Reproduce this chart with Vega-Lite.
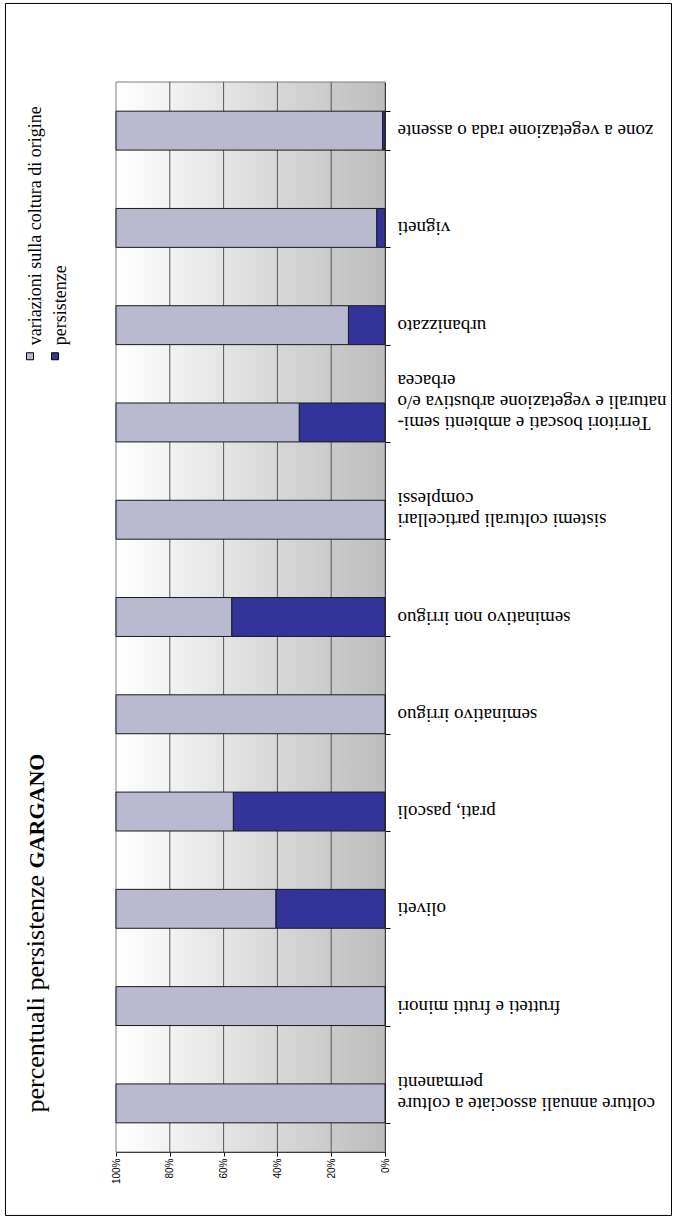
{
  "$schema": "https://vega.github.io/schema/vega-lite/v6.json",
  "width": 269,
  "height": 1070,
  "autosize": "none",
  "padding": {"left": 116, "top": 82, "right": 288, "bottom": 66},
  "background": "white",
  "config": {
    "view": {"stroke": null},
    "font": "Liberation Serif"
  },
  "datasets": {
    "dati_barre": [
      {"categoria": "zone a vegetazione rada o assente", "serie": "persistenze", "valore": 0.9},
      {"categoria": "zone a vegetazione rada o assente", "serie": "variazioni sulla coltura di origine", "valore": 99.1},
      {"categoria": "vigneti", "serie": "persistenze", "valore": 3.1},
      {"categoria": "vigneti", "serie": "variazioni sulla coltura di origine", "valore": 96.9},
      {"categoria": "urbanizzato", "serie": "persistenze", "valore": 13.6},
      {"categoria": "urbanizzato", "serie": "variazioni sulla coltura di origine", "valore": 86.4},
      {"categoria": "Territori boscati e ambienti semi-naturali e vegetazione arbustiva e/o erbacea", "serie": "persistenze", "valore": 31.9},
      {"categoria": "Territori boscati e ambienti semi-naturali e vegetazione arbustiva e/o erbacea", "serie": "variazioni sulla coltura di origine", "valore": 68.1},
      {"categoria": "sistemi colturali particellari complessi", "serie": "persistenze", "valore": 0},
      {"categoria": "sistemi colturali particellari complessi", "serie": "variazioni sulla coltura di origine", "valore": 100},
      {"categoria": "seminativo non irriguo", "serie": "persistenze", "valore": 57.0},
      {"categoria": "seminativo non irriguo", "serie": "variazioni sulla coltura di origine", "valore": 43.0},
      {"categoria": "seminativo irriguo", "serie": "persistenze", "valore": 0},
      {"categoria": "seminativo irriguo", "serie": "variazioni sulla coltura di origine", "valore": 100},
      {"categoria": "prati, pascoli", "serie": "persistenze", "valore": 56.4},
      {"categoria": "prati, pascoli", "serie": "variazioni sulla coltura di origine", "valore": 43.6},
      {"categoria": "oliveti", "serie": "persistenze", "valore": 40.6},
      {"categoria": "oliveti", "serie": "variazioni sulla coltura di origine", "valore": 59.4},
      {"categoria": "frutteti e frutti minori", "serie": "persistenze", "valore": 0},
      {"categoria": "frutteti e frutti minori", "serie": "variazioni sulla coltura di origine", "valore": 100},
      {"categoria": "colture annuali associate a colture permanenti", "serie": "persistenze", "valore": 0},
      {"categoria": "colture annuali associate a colture permanenti", "serie": "variazioni sulla coltura di origine", "valore": 100}
    ],
    "linee": [{"v": 20}, {"v": 40}, {"v": 60}, {"v": 80}],
    "sfondo": [{"lo": 0, "hi": 100}]
  },
  "layer": [
    {
      "data": {"name": "sfondo"},
      "mark": {
        "type": "rect",
        "fill": {"gradient": "linear", "x1": 0, "y1": 0, "x2": 1, "y2": 0,
          "stops": [{"offset": 0, "color": "#ffffff"}, {"offset": 1, "color": "#bdbdbd"}]},
        "stroke": "#7f7f7f",
        "strokeWidth": 1
      },
      "encoding": {
        "x": {"field": "hi", "type": "quantitative",
          "scale": {"domain": [0, 100], "reverse": true, "nice": false, "zero": false},
          "axis": {
            "orient": "bottom", "values": [0, 20, 40, 60, 80, 100], "grid": false,
            "domainColor": "#000000", "tickColor": "#000000", "tickSize": 4,
            "labelAngle": -90, "labelAlign": "right", "labelBaseline": "middle",
            "labelFont": "Liberation Sans", "labelFontSize": 10, "labelColor": "#000000",
            "labelPadding": 2, "labelFlush": false, "labelOverlap": false,
            "labelExpr": "datum.value + '%'",
            "title": "percentuali persistenze", "titleAngle": -90, "titleX": -73, "titleY": -40,
            "titleAlign": "left", "titleBaseline": "alphabetic", "titleFont": "Liberation Serif",
            "titleFontSize": 26, "titleFontWeight": "normal", "titleColor": "#000000"
          }},
        "x2": {"field": "lo"}
      }
    },
    {
      "data": {"name": "linee"},
      "mark": {"type": "rule", "color": "#555555", "strokeWidth": 1},
      "encoding": {
        "x": {"field": "v", "type": "quantitative"}
      }
    },
    {
      "data": {"name": "dati_barre"},
      "mark": {"type": "bar", "stroke": "#1a1a1a", "strokeWidth": 1},
      "encoding": {
        "y": {
          "field": "categoria", "type": "nominal",
          "sort": [
            "zone a vegetazione rada o assente", "vigneti", "urbanizzato",
            "Territori boscati e ambienti semi-naturali e vegetazione arbustiva e/o erbacea",
            "sistemi colturali particellari complessi", "seminativo non irriguo", "seminativo irriguo",
            "prati, pascoli", "oliveti", "frutteti e frutti minori",
            "colture annuali associate a colture permanenti"
          ],
          "scale": {"paddingInner": 0.6, "paddingOuter": 0.3},
          "axis": {
            "orient": "right", "grid": false,
            "domainColor": "#000000", "tickColor": "#000000", "tickSize": 5, "tickBand": "extent",
            "labelAngle": 180, "labelAlign": "right", "labelBaseline": "middle", "labelFont": "Liberation Serif",
            "labelFontSize": 19, "labelColor": "#000000", "labelLimit": 0, "labelLineHeight": 21,
            "labelOverlap": false, "labelPadding": 7,
            "labelExpr": "datum.value == 'colture annuali associate a colture permanenti' ? ['colture annuali associate a colture', 'permanenti'] : datum.value == 'sistemi colturali particellari complessi' ? ['sistemi colturali particellari', 'complessi'] : datum.value == 'Territori boscati e ambienti semi-naturali e vegetazione arbustiva e/o erbacea' ? ['Territori boscati e ambienti semi-', 'naturali e vegetazione arbustiva e/o', 'erbacea'] : datum.label",
            "title": "GARGANO", "titleAngle": -90, "titleX": -342, "titleY": 786,
            "titleAlign": "left", "titleBaseline": "alphabetic", "titleFont": "Liberation Serif",
            "titleFontSize": 22, "titleFontWeight": "bold", "titleColor": "#000000"
          }
        },
        "x": {"field": "valore", "type": "quantitative", "stack": "zero"},
        "color": {
          "field": "serie", "type": "nominal",
          "scale": {"domain": ["variazioni sulla coltura di origine", "persistenze"], "range": ["#b9b9d0", "#333399"]},
          "legend": {
            "orient": "none", "legendX": -95, "legendY": 265, "direction": "horizontal", "title": null,
            "padding": 0, "columnPadding": 0,
            "symbolType": "square", "symbolSize": 49, "symbolStrokeColor": "#000000", "symbolStrokeWidth": 1,
            "symbolOpacity": 1, "labelFont": "Liberation Serif", "labelFontSize": 18, "labelColor": "#000000",
            "labelLimit": 0,
            "encode": {
              "labels": {"update": {"angle": {"value": -90}, "align": {"value": "left"},
                "baseline": {"value": "middle"}, "dx": {"value": 11}, "dy": {"value": -7}}}
            }
          }
        }
      }
    },
    {
      "data": {"name": "sfondo"},
      "mark": {"type": "rect", "filled": false, "stroke": "#000000", "strokeWidth": 1, "clip": false},
      "encoding": {
        "x": {"datum": 141.1, "type": "quantitative"},
        "x2": {"datum": -106.5},
        "y": {"datum": -0.0593, "type": "quantitative",
          "scale": {"domain": [0, 1], "nice": false, "zero": false}, "axis": null},
        "y2": {"datum": 1.0734}
      }
    }
  ],
  "resolve": {"scale": {"y": "independent"}}
}
